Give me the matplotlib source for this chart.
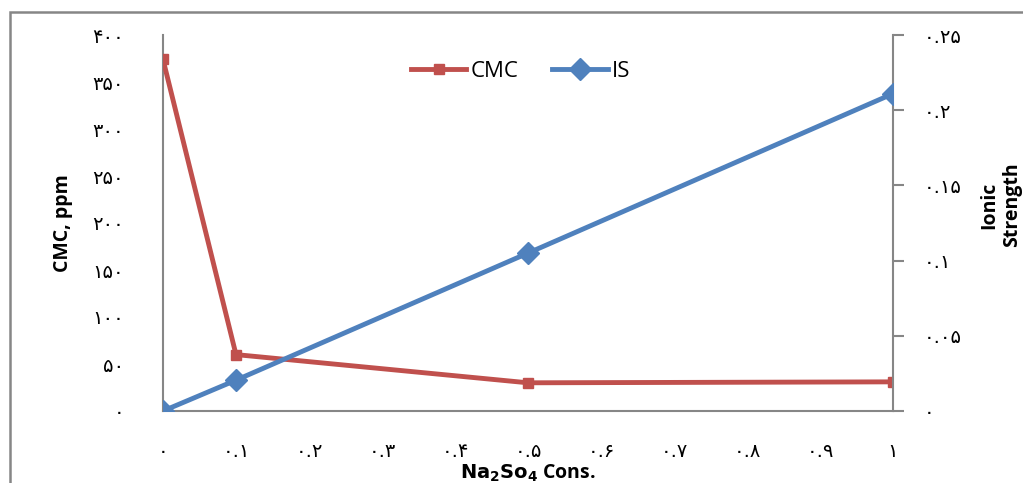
import matplotlib
matplotlib.use("Agg")
import matplotlib.pyplot as plt
from matplotlib.patches import Rectangle

# data
conc = [0, 0.1, 0.5, 1]
cmc = [374, 60, 30, 31]
ionic = [0, 0.0205, 0.105, 0.211]

left_ticks = [0, 50, 100, 150, 200, 250, 300, 350, 400]
right_ticks = [0, 0.05, 0.1, 0.15, 0.2, 0.25]
x_ticks = [0, 0.1, 0.2, 0.3, 0.4, 0.5, 0.6, 0.7, 0.8, 0.9, 1]

fa = str.maketrans("0123456789", "۰۱۲۳۴۵۶۷۸۹")


def persian(v):
    s = ("%.2f" % v).rstrip("0").rstrip(".")
    return s.translate(fa)


red = "#C0504D"
blue = "#4F81BD"
grey = "#868686"
digit_font = ["DejaVu Sans"]

fig = plt.figure(figsize=(10.23, 4.83), dpi=100)
fig.patches.append(Rectangle((10 / 1023, -0.1), 1.2, 1 - 12 / 483 + 0.1,
                             transform=fig.transFigure, fill=False,
                             edgecolor=grey, linewidth=1.8))

ax = fig.add_axes([163 / 1023, 72 / 483, 730 / 1023, 376 / 483])
ax2 = ax.twinx()

l1, = ax.plot(conc, cmc, color=red, linewidth=3.5, marker="s", markersize=7,
              label="CMC", zorder=3)
l2, = ax2.plot(conc, ionic, color=blue, linewidth=3.5, marker="D", markersize=11,
               label="IS", zorder=3)

ax.set_xlim(0, 1)
ax.set_ylim(0, 400)
ax2.set_ylim(0, 0.25)

for a in (ax, ax2):
    for s in a.spines.values():
        s.set_visible(False)
ax.spines["left"].set_visible(True)
ax.spines["bottom"].set_visible(True)
ax2.spines["right"].set_visible(True)
for s in (ax.spines["left"], ax.spines["bottom"], ax2.spines["right"]):
    s.set_color(grey)
    s.set_linewidth(1.5)

ax.set_xticks(x_ticks)
ax.set_xticklabels([persian(v) for v in x_ticks], family=digit_font, fontsize=14)
ax.tick_params(axis="x", length=0, pad=22)
ax.set_yticks(left_ticks)
ax.set_yticklabels([persian(v) for v in left_ticks], family=digit_font, fontsize=14)
ax.tick_params(axis="y", length=0, pad=28)
ax2.set_yticks(right_ticks)
ax2.set_yticklabels([persian(v) for v in right_ticks], family=digit_font, fontsize=14)
ax2.tick_params(axis="y", length=8, width=1.5, color=grey, direction="out", pad=14)

ax.set_ylabel("CMC, ppm", fontsize=14, fontweight="bold", family="Open Sans", labelpad=14)
fig.text(528 / 1023, 1 - 473 / 483, r"$\mathbf{Na_2So_4}$ Cons.", fontsize=14,
         fontweight="bold", family="Open Sans", ha="center", va="center")
fig.text(1001 / 1023, 1 - 205 / 483, "Ionic\nStrength", fontsize=14, fontweight="bold",
         family="Open Sans", rotation=90, ha="center", va="center", linespacing=1.2)

ax.legend([l1, l2], ["CMC", "IS"], loc="upper center", bbox_to_anchor=(0.49, 0.985),
          ncol=2, frameon=False, prop={"family": "Open Sans", "size": 16},
          handlelength=2.5, columnspacing=1.5, handletextpad=0.2)

fig.savefig("out.png", dpi=100)
